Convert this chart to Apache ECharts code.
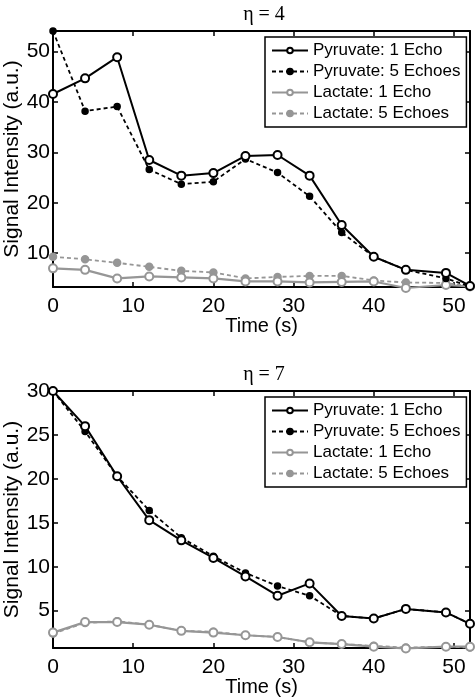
<!DOCTYPE html>
<html>
<head>
<meta charset="utf-8">
<script src="https://cdn.jsdelivr.net/npm/echarts@6/dist/echarts.min.js"></script>
<style>html,body{margin:0;padding:0;background:#fff;}#c{width:475px;height:698px;}</style>
</head>
<body>
<div id="c"></div>
<script>
var times = [0, 4, 8, 12, 16, 20, 24, 28, 32, 36, 40, 44, 49, 52];
var seriesNames = ['Pyruvate: 1 Echo', 'Pyruvate: 5 Echoes', 'Lactate: 1 Echo', 'Lactate: 5 Echoes'];
var xTicks = [0, 10, 20, 30, 40, 50];

// eta = 4
var pyr1Eta4 = [41.6, 44.7, 48.9, 28.5, 25.4, 25.9, 29.3, 29.5, 25.4, 15.6, 9.3, 6.7, 6.1, 3.5];
var pyr5Eta4 = [54.1, 38.2, 39.1, 26.6, 23.7, 24.2, 28.7, 26.0, 21.3, 14.1, 9.3, 6.7, 5.0, 3.4];
var lac1Eta4 = [7.0, 6.7, 5.0, 5.4, 5.2, 5.0, 4.4, 4.4, 4.2, 4.3, 4.4, 3.1, 3.7, 3.4];
var lac5Eta4 = [9.3, 8.8, 8.1, 7.3, 6.5, 6.2, 5.0, 5.3, 5.5, 5.5, 4.6, 4.2, 4.1, 3.4];
var yTicksEta4 = [10, 20, 30, 40, 50];

// eta = 7
var pyr1Eta7 = [30.0, 26.0, 20.3, 15.3, 13.0, 11.0, 8.9, 6.7, 8.1, 4.4, 4.1, 5.2, 4.8, 3.5];
var pyr5Eta7 = [30.0, 25.4, 20.3, 16.4, 13.3, 11.2, 9.3, 7.8, 6.7, 4.4, 4.1, 5.2, 4.8, 3.5];
var lac1Eta7 = [2.5, 3.7, 3.7, 3.4, 2.7, 2.5, 2.2, 2.0, 1.4, 1.2, 0.9, 0.7, 0.9, 0.9];
var lac5Eta7 = [2.4, 3.6, 3.8, 3.4, 2.7, 2.6, 2.2, 2.0, 1.4, 1.2, 1.0, 0.8, 0.9, 0.8];
var yTicksEta7 = [5, 10, 15, 20, 25, 30];

var FONT = 'Liberation Sans, Arial, sans-serif';
var GREY = '#969696';

function pairs(vals) { return times.map(function (t, i) { return [t, vals[i]]; }); }

var panels = [
  { title: '\u03b7 = 4', top: 31, height: 256, ymin: 3.3, ymax: 54.1, yticks: yTicksEta4,
    data: [pyr1Eta4, pyr5Eta4, lac1Eta4, lac5Eta4], legendTop: 37 },
  { title: '\u03b7 = 7', top: 391, height: 257, ymin: 0.75, ymax: 30, yticks: yTicksEta7,
    data: [pyr1Eta7, pyr5Eta7, lac1Eta7, lac5Eta7], legendTop: 397 }
];

var styles = [
  { color: '#000', lineType: 'solid', width: 2, symbol: 'emptyCircle', size: 8 },
  { color: '#000', lineType: [4, 3], width: 1.8, symbol: 'circle', size: 6 },
  { color: GREY, lineType: 'solid', width: 2.2, symbol: 'emptyCircle', size: 8 },
  { color: GREY, lineType: [4, 3], width: 1.8, symbol: 'circle', size: 7 }
];

var option = { animation: false, backgroundColor: '#fff', title: [], grid: [], xAxis: [], yAxis: [], legend: [], series: [] };

panels.forEach(function (p, k) {
  option.title.push({ text: p.title, left: 259, top: p.top - 31, textAlign: 'center',
    textStyle: { fontFamily: 'Liberation Serif, Times New Roman, serif', fontSize: 20, fontWeight: 'normal', color: '#000' } });
  option.grid.push({ left: 53, top: p.top, width: 417, height: p.height, containLabel: false, outerBoundsMode: 'none' });
  var axLine = { show: true, onZero: false, lineStyle: { color: '#000', width: 2 } };
  option.xAxis.push({ type: 'value', gridIndex: k, min: 0, max: 52, position: 'bottom',
    name: 'Time (s)', nameLocation: 'middle', nameGap: 29, nameMoveOverlap: false,
    nameTextStyle: { fontFamily: FONT, fontSize: 20, color: '#000' },
    axisLine: axLine, splitLine: { show: false },
    axisTick: { inside: true, length: 5, customValues: xTicks, lineStyle: { color: '#000', width: 1.5 } },
    axisLabel: { customValues: xTicks, fontFamily: FONT, fontSize: 21, color: '#000', margin: 9 } });
  option.xAxis.push({ type: 'value', gridIndex: k, min: 0, max: 52, position: 'top',
    axisLine: axLine, splitLine: { show: false },
    axisTick: { inside: true, length: 5, customValues: xTicks, lineStyle: { color: '#000', width: 1.5 } },
    axisLabel: { show: false } });
  option.yAxis.push({ type: 'value', gridIndex: k, min: p.ymin, max: p.ymax, position: 'left',
    name: 'Signal Intensity (a.u.)', nameLocation: 'middle', nameGap: 30, nameMoveOverlap: false,
    nameTextStyle: { fontFamily: FONT, fontSize: 21, color: '#000' },
    axisLine: axLine, splitLine: { show: false },
    axisTick: { inside: true, length: 5, customValues: p.yticks, lineStyle: { color: '#000', width: 1.5 } },
    axisLabel: { customValues: p.yticks, fontFamily: FONT, fontSize: 21, color: '#000', margin: 3 } });
  option.yAxis.push({ type: 'value', gridIndex: k, min: p.ymin, max: p.ymax, position: 'right',
    axisLine: axLine, splitLine: { show: false },
    axisTick: { inside: true, length: 5, customValues: p.yticks, lineStyle: { color: '#000', width: 1.5 } },
    axisLabel: { show: false } });

  option.legend.push({ orient: 'vertical', left: 265, top: p.legendTop, data: seriesNames,
    backgroundColor: '#fff', borderColor: '#000', borderWidth: 1.5, borderRadius: 0,
    padding: [5, 6, 5, 6], itemGap: 4, itemWidth: 36, itemHeight: 7,
    textStyle: { fontFamily: FONT, fontSize: 17, color: '#000', lineHeight: 17 }, selectedMode: false });

  seriesNames.forEach(function (name, j) {
    var s = styles[j];
    option.series.push({ type: 'line', name: name, xAxisIndex: 2 * k, yAxisIndex: 2 * k,
      data: pairs(p.data[j]), clip: false, symbol: s.symbol, symbolSize: s.size, showAllSymbol: true,
      lineStyle: { color: s.color, width: s.width, type: s.lineType },
      itemStyle: { color: s.color, borderColor: s.color, borderWidth: 1.5 },
      z: 10 - j });
  });
});

var chart = echarts.init(document.getElementById('c'), null, { renderer: 'canvas' });
chart.setOption(option);
</script>
</body>
</html>
